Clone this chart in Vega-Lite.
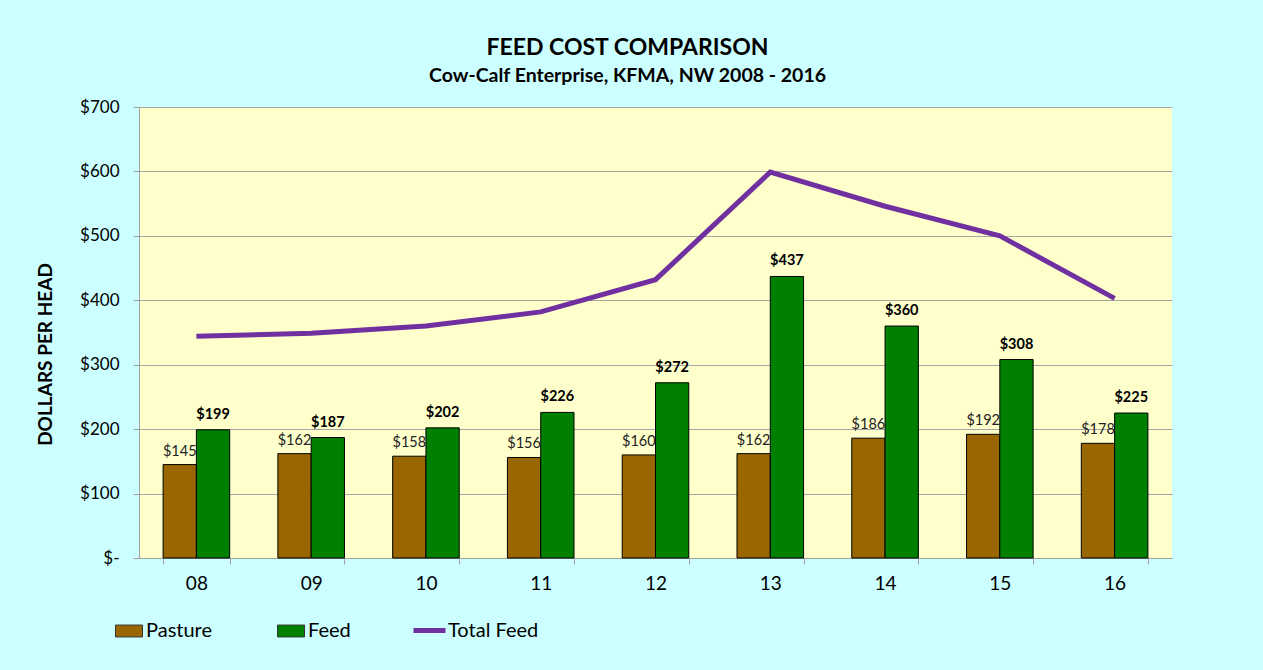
{
  "$schema": "https://vega.github.io/schema/vega-lite/v6.json",
  "width": 1033,
  "height": 451,
  "autosize": {"type": "none"},
  "padding": {"left": 139, "top": 107, "right": 91, "bottom": 112},
  "background": "#CCFFFF",
  "config": {
    "font": "Lato",
    "view": {"fill": "#FFFFCC", "stroke": null}
  },
  "title": {
    "text": "FEED COST COMPARISON",
    "subtitle": "Cow-Calf Enterprise, KFMA, NW 2008 - 2016",
    "font": "Lato",
    "subtitleFont": "Lato",
    "fontSize": 23,
    "fontWeight": "bold",
    "subtitleFontSize": 19.5,
    "subtitleFontWeight": "bold",
    "color": "#000000",
    "subtitleColor": "#000000",
    "anchor": "middle",
    "dx": -28,
    "offset": 13,
    "subtitlePadding": 7
  },
  "datasets": {
    "bars": [
      {"year": "08", "series": "Pasture", "value": 145},
      {"year": "08", "series": "Feed", "value": 199},
      {"year": "09", "series": "Pasture", "value": 162},
      {"year": "09", "series": "Feed", "value": 187},
      {"year": "10", "series": "Pasture", "value": 158},
      {"year": "10", "series": "Feed", "value": 202},
      {"year": "11", "series": "Pasture", "value": 156},
      {"year": "11", "series": "Feed", "value": 226},
      {"year": "12", "series": "Pasture", "value": 160},
      {"year": "12", "series": "Feed", "value": 272},
      {"year": "13", "series": "Pasture", "value": 162},
      {"year": "13", "series": "Feed", "value": 437},
      {"year": "14", "series": "Pasture", "value": 186},
      {"year": "14", "series": "Feed", "value": 360},
      {"year": "15", "series": "Pasture", "value": 192},
      {"year": "15", "series": "Feed", "value": 308},
      {"year": "16", "series": "Pasture", "value": 178},
      {"year": "16", "series": "Feed", "value": 225}
    ],
    "totals": [
      {"year": "08", "total": 344},
      {"year": "09", "total": 349},
      {"year": "10", "total": 360},
      {"year": "11", "total": 382},
      {"year": "12", "total": 432},
      {"year": "13", "total": 599},
      {"year": "14", "total": 546},
      {"year": "15", "total": 500},
      {"year": "16", "total": 403}
    ]
  },
  "layer": [
    {
      "data": {"name": "bars"},
      "mark": {"type": "bar", "stroke": "#000000", "strokeWidth": 1},
      "encoding": {
        "x": {
          "field": "year",
          "type": "nominal",
          "scale": {"paddingInner": 0.42, "paddingOuter": 0.21},
          "axis": {
            "title": null,
            "labelAngle": 0,
            "labelFontSize": 19,
            "labelColor": "#000000",
            "labelPadding": 10,
            "tickBand": "extent",
            "tickSize": 6,
            "tickColor": "#A0A0A0",
            "domainColor": "#A0A0A0",
            "grid": false
          }
        },
        "xOffset": {
          "field": "series",
          "sort": ["Pasture", "Feed"],
          "scale": {"paddingInner": 0, "paddingOuter": 0}
        },
        "y": {
          "field": "value",
          "type": "quantitative",
          "scale": {"domain": [0, 700]},
          "axis": {
            "title": "DOLLARS PER HEAD",
            "values": [0, 100, 200, 300, 400, 500, 600, 700],
            "labelExpr": "datum.value == 0 ? '$-' : '$' + datum.value",
            "labelFontSize": 17,
            "labelColor": "#000000",
            "labelPadding": 14,
            "tickSize": 6,
            "tickColor": "#A0A0A0",
            "domainColor": "#A0A0A0",
            "gridColor": "#A6A6A6",
            "titleFontSize": 19,
            "titleFontWeight": "bold",
            "titleColor": "#000000",
            "titleX": -94,
            "titleY": 247,
            "titleAngle": -90,
            "titleAlign": "center",
            "titleBaseline": "middle"
          }
        },
        "fill": {
          "field": "series",
          "type": "nominal",
          "sort": ["Pasture", "Feed"],
          "scale": {
            "domain": ["Pasture", "Feed"],
            "range": ["#996600", "#008000"]
          },
          "legend": {
            "title": null,
            "orient": "none",
            "legendX": -24,
            "legendY": 510,
            "direction": "horizontal",
            "gridAlign": "none",
            "columnPadding": 62,
            "symbolType": "M-1,-0.44H1V0.44H-1Z",
            "symbolSize": 729,
            "symbolStrokeColor": "#333333",
            "symbolStrokeWidth": 1,
            "symbolOpacity": 1,
            "labelFontSize": 20,
            "labelColor": "#000000",
            "labelOffset": 3
          }
        }
      }
    },
    {
      "data": {"name": "bars"},
      "transform": [{"filter": "datum.series == 'Pasture'"}],
      "mark": {"type": "text", "baseline": "bottom", "dy": -6, "fontSize": 14.5, "color": "#222222"},
      "encoding": {
        "x": {"field": "year", "type": "nominal"},
        "xOffset": {"field": "series", "sort": ["Pasture", "Feed"]},
        "y": {"field": "value", "type": "quantitative"},
        "text": {"field": "value", "type": "quantitative", "format": "$.0f"}
      }
    },
    {
      "data": {"name": "bars"},
      "transform": [{"filter": "datum.series == 'Feed'"}],
      "mark": {"type": "text", "baseline": "bottom", "dy": -8, "fontSize": 14.5, "fontWeight": "bold", "color": "#000000"},
      "encoding": {
        "x": {"field": "year", "type": "nominal"},
        "xOffset": {"field": "series", "sort": ["Pasture", "Feed"]},
        "y": {"field": "value", "type": "quantitative"},
        "text": {"field": "value", "type": "quantitative", "format": "$.0f"}
      }
    },
    {
      "data": {"name": "totals"},
      "mark": {"type": "line", "strokeWidth": 5, "strokeJoin": "miter"},
      "encoding": {
        "x": {"field": "year", "type": "nominal"},
        "y": {"field": "total", "type": "quantitative"},
        "stroke": {
          "datum": "Total Feed",
          "scale": {"domain": ["Total Feed"], "range": ["#7030A0"]},
          "legend": {
            "title": null,
            "orient": "none",
            "legendX": 272,
            "legendY": 505,
            "direction": "horizontal",
            "symbolType": "stroke",
            "symbolSize": 1024,
            "symbolStrokeWidth": 5,
            "labelFontSize": 20,
            "labelColor": "#000000",
            "labelOffset": 0
          }
        }
      }
    }
  ]
}
